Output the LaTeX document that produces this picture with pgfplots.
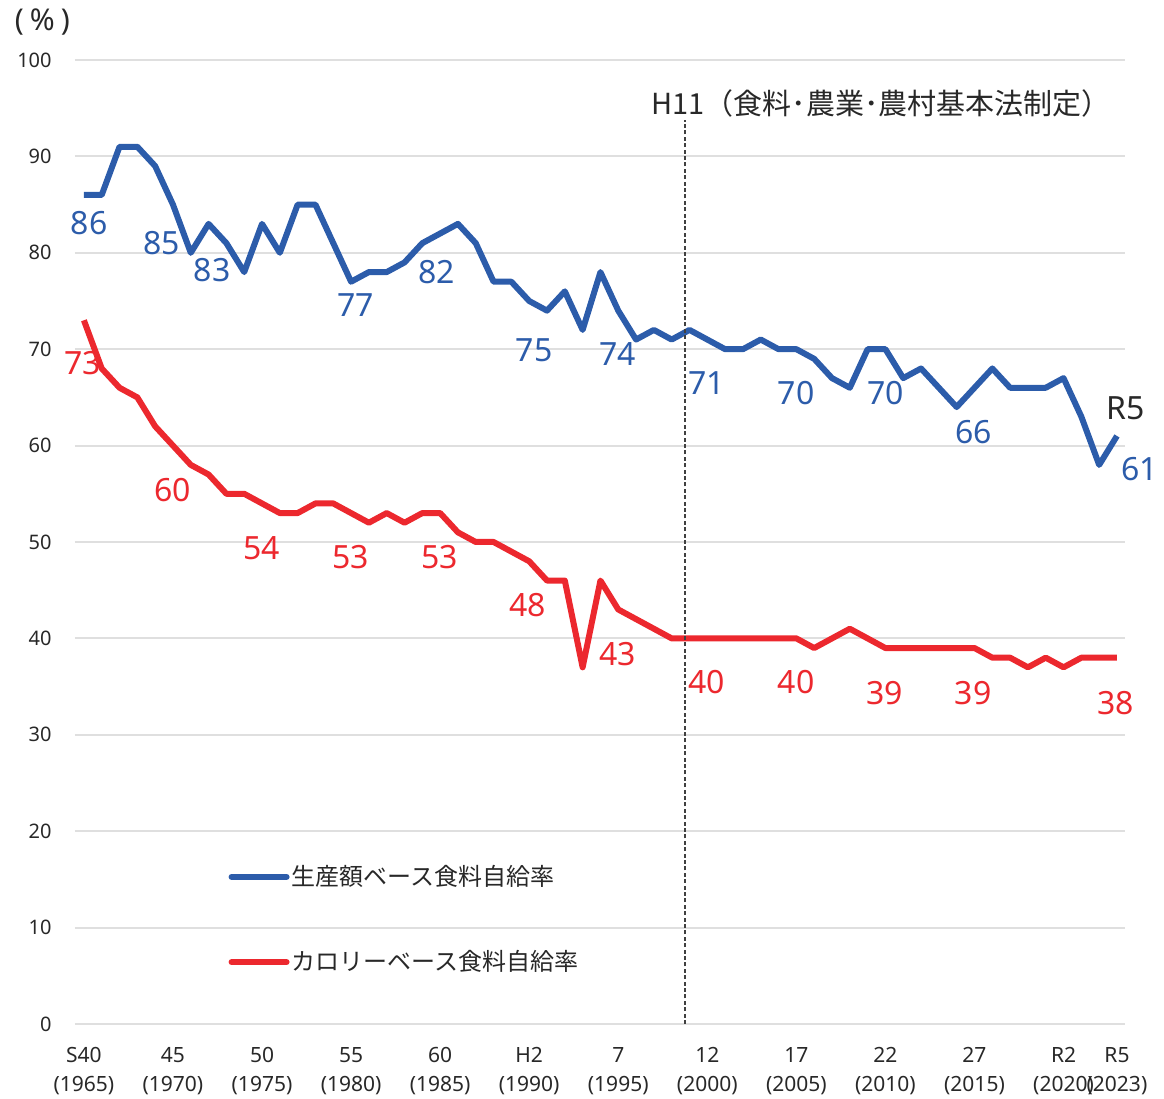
\documentclass[border=0pt]{standalone}
\usepackage{pgfplots}
\pgfplotsset{compat=1.18}
\usepackage{fontspec}
\setmainfont{Noto Sans}
\newfontfamily\jp{Noto Sans CJK JP}
\definecolor{cblue}{RGB}{44,92,170}
\definecolor{cred}{RGB}{236,40,46}
\definecolor{ctext}{RGB}{40,40,40}
\begin{document}
\begin{tikzpicture}
\useasboundingbox (0,0) rectangle (582pt,549.5pt);
\begin{axis}[
  at={(37.5pt,37.5pt)}, anchor=south west,
  scale only axis, width=525pt, height=482pt,
  xmin=1964.5, xmax=2023.45, ymin=0, ymax=100,
  clip=false,
  axis line style={draw=none},
  major tick length=0pt,
  ymajorgrids, grid style={gray!25, line width=1pt},
  ytick={0,10,...,100},
  xtick={1965,1970,1975,1980,1985,1990,1995,2000,2005,2010,2015,2020,2023},
  xticklabels={{S40\\(1965)},{45\\(1970)},{50\\(1975)},{55\\(1980)},{60\\(1985)},{H2\\(1990)},{7\\(1995)},{12\\(2000)},{17\\(2005)},{22\\(2010)},{27\\(2015)},{R2\\(2020)},{R5\\(2023)}},
  /pgf/number format/assume math mode=true,
  yticklabel style={font=\fontsize{10}{12}\selectfont, text=ctext, inner sep=0pt, xshift=-11.5pt},
  xticklabel style={font=\fontsize{10.5}{14.5}\selectfont, text=ctext, inner sep=0pt, yshift=-11.5pt, align=center},
  legend style={draw=none, fill=none, inner sep=0pt, at={(axis cs:1973.1,10.84)}, anchor=west,
    row sep=31pt, column sep=1pt, font=\jp\fontsize{12}{14}\selectfont, text=ctext, nodes={inner sep=0pt}},
  legend cell align=left,
  legend image code/.code={\draw[#1, line cap=round] (0pt,0pt) -- (27.5pt,0pt);},
]
\addplot[cblue, line width=3pt, line join=round] coordinates {
(1965,86) (1966,86) (1967,91) (1968,91) (1969,89) (1970,85) (1971,80) (1972,83) (1973,81) (1974,78)
(1975,83) (1976,80) (1977,85) (1978,85) (1979,81) (1980,77) (1981,78) (1982,78) (1983,79) (1984,81)
(1985,82) (1986,83) (1987,81) (1988,77) (1989,77) (1990,75) (1991,74) (1992,76) (1993,72) (1994,78)
(1995,74) (1996,71) (1997,72) (1998,71) (1999,72) (2000,71) (2001,70) (2002,70) (2003,71) (2004,70)
(2005,70) (2006,69) (2007,67) (2008,66) (2009,70) (2010,70) (2011,67) (2012,68) (2013,66) (2014,64)
(2015,66) (2016,68) (2017,66) (2018,66) (2019,66) (2020,67) (2021,63) (2022,58) (2023,61)
};
\addlegendentry{生産額ベース食料自給率}
\addplot[cred, line width=3pt, line join=round] coordinates {
(1965,73) (1966,68) (1967,66) (1968,65) (1969,62) (1970,60) (1971,58) (1972,57) (1973,55) (1974,55)
(1975,54) (1976,53) (1977,53) (1978,54) (1979,54) (1980,53) (1981,52) (1982,53) (1983,52) (1984,53)
(1985,53) (1986,51) (1987,50) (1988,50) (1989,49) (1990,48) (1991,46) (1992,46) (1993,37) (1994,46)
(1995,43) (1996,42) (1997,41) (1998,40) (1999,40) (2000,40) (2001,40) (2002,40) (2003,40) (2004,40)
(2005,40) (2006,39) (2007,40) (2008,41) (2009,40) (2010,39) (2011,39) (2012,39) (2013,39) (2014,39)
(2015,39) (2016,38) (2017,38) (2018,37) (2019,38) (2020,37) (2021,38) (2022,38) (2023,38)
};
\addlegendentry{カロリーベース食料自給率}
\addplot[forget plot, black!75, line width=0.75pt, dash pattern=on 2pt off 1.2pt] coordinates {(1998.75,0) (1998.75,93.8)};
% title and axis unit
\node[anchor=west, font=\jp\fontsize{14.5}{14.5}\selectfont, text=ctext, inner sep=0pt] at (axis cs:1996.84,95.5) {H11（食料･農業･農村基本法制定）};
\node[font=\fontsize{15}{15}\selectfont, text=ctext, inner sep=0pt] at (axis cs:1962.67,103.9) {(\hspace{3pt}\%\hspace{3pt})};
% blue labels
\begin{scope}[every node/.style={font=\fontsize{16}{16}\selectfont, text=cblue, inner sep=0pt}]
\node at (axis cs:1965.3,83.1) {86};
\node at (axis cs:1969.35,81.0) {85};
\node at (axis cs:1972.2,78.2) {83};
\node at (axis cs:1980.27,74.6) {77};
\node at (axis cs:1984.82,78.0) {82};
\node at (axis cs:1990.27,69.9) {75};
\node at (axis cs:1994.95,69.5) {74};
\node at (axis cs:1999.98,66.5) {71};
\node at (axis cs:2004.98,65.5) {70};
\node at (axis cs:2010.0,65.5) {70};
\node at (axis cs:2014.97,61.4) {66};
\node at (axis cs:2024.29,57.6) {61};
\end{scope}
\node[font=\fontsize{16}{16}\selectfont, text=ctext, inner sep=0pt] at (axis cs:2023.5,63.9) {R5};
% red labels
\begin{scope}[every node/.style={font=\fontsize{16}{16}\selectfont, text=cred, inner sep=0pt}]
\node at (axis cs:1964.94,68.6) {73};
\node at (axis cs:1970.0,55.4) {60};
\node at (axis cs:1974.99,49.4) {54};
\node at (axis cs:1979.99,48.4) {53};
\node at (axis cs:1984.99,48.4) {53};
\node at (axis cs:1989.93,43.5) {48};
\node at (axis cs:1994.96,38.4) {43};
\node at (axis cs:1999.98,35.5) {40};
\node at (axis cs:2004.98,35.5) {40};
\node at (axis cs:2009.97,34.3) {39};
\node at (axis cs:2014.92,34.3) {39};
\node at (axis cs:2022.94,33.3) {38};
\end{scope}
\end{axis}
\end{tikzpicture}
\end{document}
